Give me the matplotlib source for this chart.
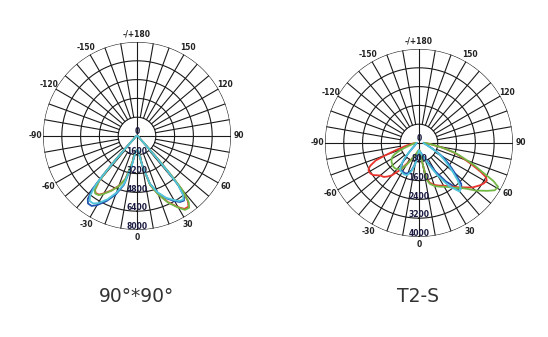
import numpy as np
import matplotlib.pyplot as plt

# chart 1: 90°*90°, gamma angles and intensities (left half = negative angles)
gamma_a = [0, 5, 10, 15, 20, 25, 30, 33, 36, 38, 40, 41, 42, 44, 47, 55, 70, 90]
blue_a_left = [1200, 1300, 2500, 4300, 5300, 6100, 6800, 7100, 7100, 6800, 5900, 4400, 2700, 1000, 400, 200, 100, 50]
blue_a_right = [1200, 1300, 2500, 4200, 5150, 5850, 6400, 6700, 6800, 6500, 5500, 4100, 2500, 950, 400, 200, 100, 50]
red_a_left = [1200, 1300, 2300, 3800, 4500, 5100, 5650, 5950, 6000, 5800, 5000, 4000, 2600, 1000, 400, 200, 100, 50]
red_a_right = [1200, 1300, 2500, 4300, 5300, 6200, 7000, 7400, 7450, 7050, 5900, 4400, 2700, 1000, 400, 200, 100, 50]
green_a_left = [1200, 1300, 2300, 3800, 4550, 5150, 5700, 6000, 6050, 5850, 5050, 4000, 2600, 1000, 400, 200, 100, 50]
green_a_right = [1200, 1300, 2500, 4300, 5300, 6250, 7050, 7500, 7550, 7150, 6000, 4500, 2700, 1000, 400, 200, 100, 50]
cyan_a_left = [1200, 1300, 2500, 4200, 5150, 5950, 6600, 6850, 6850, 6500, 5600, 4200, 2500, 950, 400, 200, 100, 50]
cyan_a_right = [1200, 1300, 2500, 4200, 5100, 5800, 6300, 6600, 6700, 6400, 5400, 4000, 2400, 950, 400, 200, 100, 50]
rings_a = [1600, 3200, 4800, 6400, 8000]

# chart 2: T2-S
gamma_b = [0, 5, 8, 10, 12, 15, 20, 25, 30, 35, 40, 43, 46, 50, 55, 58, 61, 63, 65, 68, 70, 73, 75, 78, 80, 85, 90]
blue_b_left = [300, 480, 650, 850, 1000, 1200, 1380, 1420, 1400, 1330, 1100, 870, 620, 400, 270, 220, 200, 190, 180, 160, 150, 140, 130, 120, 110, 100, 100]
blue_b_right = [300, 350, 380, 400, 450, 500, 650, 900, 1400, 2000, 2500, 2650, 2500, 2000, 1550, 1300, 1050, 900, 750, 600, 500, 420, 380, 320, 300, 250, 200]
red_b_left = [300, 350, 380, 400, 450, 500, 600, 780, 1000, 1400, 1800, 1950, 2080, 2150, 2380, 2440, 2450, 2400, 2280, 1980, 1500, 1000, 750, 550, 420, 250, 150]
red_b_right = [300, 350, 500, 900, 1500, 1750, 1900, 2000, 2100, 2250, 2450, 2580, 2720, 2950, 3150, 3250, 3300, 3200, 2900, 2400, 2100, 1750, 1500, 1100, 850, 450, 250]
green_b_left = [300, 330, 360, 400, 430, 480, 600, 800, 1100, 1350, 1450, 1480, 1490, 1470, 1420, 1380, 1320, 1250, 1150, 920, 750, 520, 420, 320, 270, 200, 150]
green_b_right = [300, 350, 500, 900, 1600, 1800, 1950, 2050, 2150, 2300, 2500, 2620, 2800, 3150, 3550, 3800, 3850, 3550, 3050, 2550, 2200, 1800, 1550, 1100, 850, 450, 250]
cyan_b_left = [300, 500, 700, 900, 1050, 1250, 1450, 1480, 1450, 1400, 1150, 900, 650, 420, 280, 230, 200, 190, 180, 160, 150, 140, 130, 120, 110, 100, 100]
cyan_b_right = [300, 350, 400, 420, 480, 550, 750, 1050, 1600, 2250, 2700, 2600, 2300, 1850, 1400, 1180, 1000, 850, 700, 550, 450, 380, 330, 280, 250, 220, 200]
rings_b = [800, 1600, 2400, 3200, 4000]

angle_ticks = [0, 30, 60, 90, 120, 150, 180, -150, -120, -90, -60, -30]
angle_labels = ['0', '30', '60', '90', '120', '150', '-/+180', '-150', '-120', '-90', '-60', '-30']

colors = {'blue': '#2152b0', 'red': '#e8332b', 'green': '#72b845', 'cyan': '#4fc4da'}


def draw_grid(ax, rings):
    rmax = rings[-1]
    t = np.linspace(0, 2 * np.pi, 361)
    for r in rings:
        ax.plot(t, np.full_like(t, r), color='#1a1a1a', lw=0.8, zorder=1)
    # spokes every 10 degrees start at the inner ring, the main axes go through the centre
    for a in range(0, 360, 10):
        th = np.deg2rad(a)
        r0 = 0 if a % 90 == 0 else rings[0]
        ax.plot([th, th], [r0, rmax], color='#1a1a1a', lw=0.8, zorder=1)
    for a, lab in zip(angle_ticks, angle_labels):
        ax.text(np.deg2rad(a), rmax * 1.085, lab, ha='center', va='center',
                fontsize=5.5, fontweight='bold', color='#222222')
    ax.text(np.pi, rmax * 0.045, '0', ha='center', va='center',
            fontsize=5.5, fontweight='bold', color='#1a1a40', zorder=5)
    for r in rings:
        ax.text(0, r - 0.17 * rings[0], str(r), ha='center', va='center',
                fontsize=5.5, fontweight='bold', color='#1a1a40', zorder=5)


def draw_curves(ax, gamma, series):
    g = np.array(gamma, dtype=float)
    for name, left, right in series:
        th = np.deg2rad(np.concatenate([-g[::-1], g[1:]]))
        r = np.concatenate([np.array(left)[::-1], np.array(right)[1:]])
        ax.plot(th, r, color=colors[name], lw=1.3, zorder=3)


def setup(ax, rmax):
    ax.set_theta_zero_location('S')
    ax.set_theta_direction(1)
    ax.set_ylim(0, rmax)
    ax.set_xticks([])
    ax.set_yticks([])
    ax.grid(False)
    ax.spines['polar'].set_visible(False)


def main():
    fig = plt.figure(figsize=(5.48, 3.37), dpi=100)

    ax1 = fig.add_axes([0.0785, 0.3175, 0.343, 0.558], projection='polar')
    setup(ax1, rings_a[-1])
    draw_grid(ax1, rings_a)
    draw_curves(ax1, gamma_a, [('blue', blue_a_left, blue_a_right),
                               ('red', red_a_left, red_a_right),
                               ('green', green_a_left, green_a_right),
                               ('cyan', cyan_a_left, cyan_a_right)])

    ax2 = fig.add_axes([0.593, 0.2967, 0.343, 0.558], projection='polar')
    setup(ax2, rings_b[-1])
    draw_grid(ax2, rings_b)
    draw_curves(ax2, gamma_b, [('blue', blue_b_left, blue_b_right),
                               ('red', red_b_left, red_b_right),
                               ('green', green_b_left, green_b_right),
                               ('cyan', cyan_b_left, cyan_b_right)])

    fig.text(137 / 548, 1 - 297 / 337, '90°*90°', ha='center', va='center',
             fontsize=13.5, color='#333333')
    fig.text(418 / 548, 1 - 297 / 337, 'T2-S', ha='center', va='center',
             fontsize=13.5, color='#333333')

    fig.savefig('out.png', dpi=100)


if __name__ == '__main__':
    main()
